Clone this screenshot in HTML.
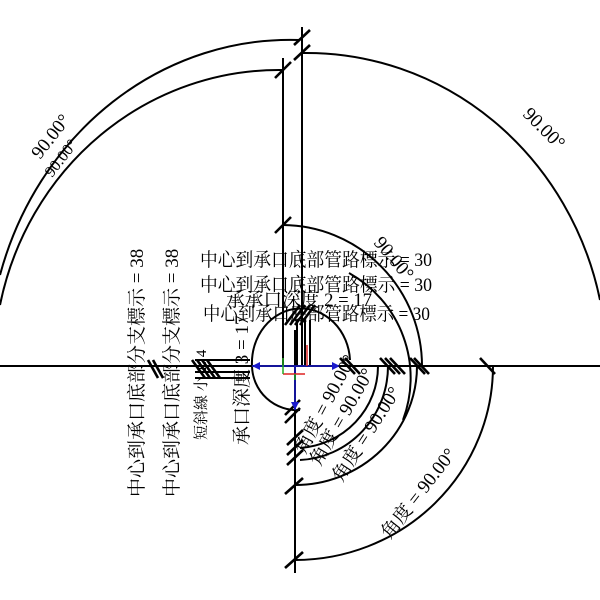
<!DOCTYPE html>
<html><head><meta charset="utf-8"><style>
html,body{margin:0;padding:0;background:#fff;width:600px;height:600px;overflow:hidden}
text{font-family:"Liberation Serif","Noto Serif CJK SC","Noto Sans CJK TC",serif;fill:#000}
</style></head><body>
<svg width="600" height="600" viewBox="0 0 600 600" xmlns="http://www.w3.org/2000/svg">
<g stroke="#000" stroke-width="2" fill="none">
<line x1="0" y1="366" x2="600" y2="366"/>
<line x1="295" y1="330" x2="295" y2="573"/>
<line x1="283" y1="58" x2="283" y2="366"/>
<line x1="302" y1="27" x2="302" y2="366"/>
<path d="M302,53 A300,313 0 0 1 600,300"/>
<path d="M300,40 A302,326 0 0 0 0,275"/>
<path d="M283,70 A285,296 0 0 0 0,305"/>
<path d="M283,225 A140,141 0 0 1 422,366"/>
<path d="M349,273 A120,120 0 0 1 403,420"/>
<path d="M252,366 A45,50 0 0 1 350,360"/>
<path d="M252,366 A45,45 0 0 0 300,410"/>
<path d="M295,560 A198,194 0 0 0 493,366"/>
<path d="M295,485 A122,119 0 0 0 417,366"/>
<path d="M300,460 A92,94 0 0 0 388,366"/>
<path d="M300,448 A84,82 0 0 0 378,366"/>
<g stroke-width="2.6">
<line x1="294" y1="45" x2="310" y2="30"/><line x1="294" y1="60" x2="310" y2="45"/>
<line x1="275" y1="78" x2="291" y2="62"/><line x1="275" y1="233" x2="291" y2="217"/>
<line x1="285" y1="568" x2="303" y2="552"/><line x1="285" y1="494" x2="303" y2="478"/>
<line x1="287" y1="465" x2="303" y2="450"/><line x1="287" y1="455" x2="303" y2="440"/>
<line x1="287" y1="445" x2="303" y2="430"/>
<line x1="480" y1="358" x2="495" y2="374"/><line x1="410" y1="358" x2="425" y2="374"/>
<line x1="414" y1="358" x2="429" y2="374"/><line x1="380" y1="358" x2="395" y2="374"/>
<line x1="385" y1="358" x2="400" y2="374"/><line x1="390" y1="358" x2="405" y2="374"/>
<line x1="340" y1="358" x2="355" y2="374"/><line x1="345" y1="358" x2="360" y2="374"/>
<line x1="148" y1="360" x2="158" y2="378"/><line x1="153" y1="360" x2="163" y2="378"/>
<line x1="192" y1="360" x2="205" y2="378"/><line x1="197" y1="360" x2="210" y2="378"/>
<line x1="202" y1="360" x2="215" y2="378"/><line x1="207" y1="360" x2="220" y2="378"/>
<line x1="285" y1="325" x2="300" y2="305"/><line x1="290" y1="325" x2="305" y2="305"/>
<line x1="295" y1="325" x2="310" y2="305"/><line x1="300" y1="325" x2="315" y2="305"/>
<line x1="285" y1="415" x2="300" y2="400"/><line x1="285" y1="423" x2="300" y2="408"/>
</g>
<line x1="195" y1="360" x2="250" y2="360"/><line x1="195" y1="372" x2="250" y2="372"/>
<line x1="195" y1="378" x2="250" y2="378"/>
<line x1="297" y1="320" x2="297" y2="366"/><line x1="305" y1="320" x2="305" y2="366"/>
<line x1="310" y1="320" x2="310" y2="366"/>
</g>
<g stroke-width="1.5" fill="none">
<line x1="252" y1="366" x2="340" y2="366" stroke="#1a1acc"/>
<line x1="295" y1="366" x2="295" y2="410" stroke="#1a1acc"/>
<line x1="307" y1="345" x2="307" y2="366" stroke="#d22"/>
<line x1="283" y1="374" x2="305" y2="374" stroke="#d22"/>
<line x1="283" y1="358" x2="283" y2="374" stroke="#2a2"/>
<line x1="295" y1="374" x2="295" y2="380" stroke="#2a2"/>
</g>
<polygon points="252,366 260,362 260,370" fill="#1a1acc"/>
<polygon points="340,366 332,362 332,370" fill="#1a1acc"/>
<polygon points="295,410 291,402 299,402" fill="#1a1acc"/>
<g font-size="19">
<text x="200" y="266" textLength="232" lengthAdjust="spacingAndGlyphs">中心到承口底部管路標示 = 30</text>
<text x="200" y="291" textLength="232" lengthAdjust="spacingAndGlyphs">中心到承口底部管路標示 = 30</text>
<text x="226" y="306" textLength="146" lengthAdjust="spacingAndGlyphs">承承口深度 2 = 17</text>
<text x="203" y="320" textLength="227" lengthAdjust="spacingAndGlyphs">中心到承口底部管路標示 = 30</text>
</g>
<g font-size="19">
<text transform="translate(143,497) rotate(-90)">中心到承口底部分支標示 = 38</text>
<text transform="translate(178,497) rotate(-90)">中心到承口底部分支標示 = 38</text>
<text transform="translate(206,440) rotate(-90)" font-size="15">短斜線 小 1: 4</text>
<text transform="translate(248,445) rotate(-90)">承口深度 3 = 17</text>
<text transform="translate(40,160) rotate(-52)">90.00°</text>
<text transform="translate(52,178) rotate(-52)" font-size="16">90.00°</text>
<text transform="translate(522,115) rotate(45)">90.00°</text>
<text transform="translate(373,243) rotate(50)">90.00°</text>
<text transform="translate(305,455) rotate(-62)">角度 = 90.00°</text>
<text transform="translate(320,467) rotate(-60)">角度 = 90.00°</text>
<text transform="translate(342,483) rotate(-57)">角度 = 90.00°</text>
<text transform="translate(390,540) rotate(-52)">角度 = 90.00°</text>
</g>
</svg>
</body></html>
